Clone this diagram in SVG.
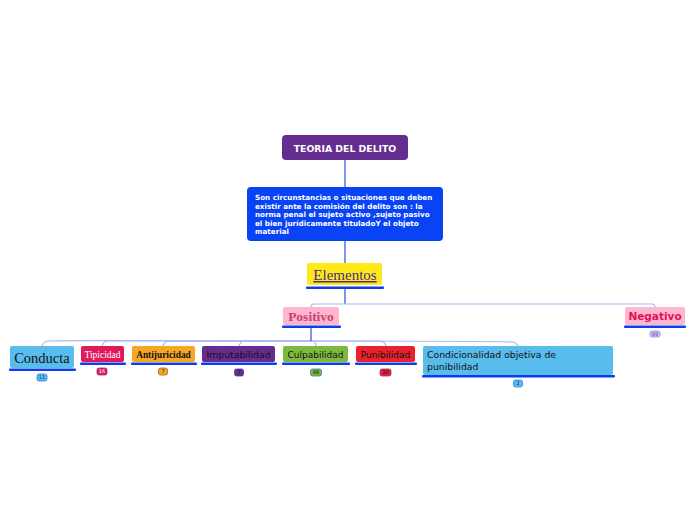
<svg xmlns="http://www.w3.org/2000/svg" width="696" height="520" viewBox="0 0 696 520">
<style>
.sans{font-family:"DejaVu Sans","Verdana",sans-serif}
.serif{font-family:"Liberation Serif","Times New Roman",serif}
.ul{fill:#0a3ff0}
.trunk{stroke:#2452d8;stroke-width:1.2;fill:none}
.br{stroke:#aab8f4;stroke-width:1.2;fill:none}
.badge{stroke-width:0.8}
.bt{font-family:"DejaVu Sans",sans-serif;font-size:5px;text-anchor:middle}
</style>
<rect width="696" height="520" fill="#ffffff"/>
<g id="connectors">
<path class="trunk" d="M345,160 V188"/>
<path class="trunk" d="M345,241 V263"/>
<path class="trunk" d="M345,289 V304"/>
<path class="br" d="M345,304 H314 Q311,304 311,307"/>
<path class="br" d="M345,304 H652 Q655,304 655,307"/>
<path class="br" d="M311,341 C200,341 60,340 48,341 Q43,342 42,346"/>
<path class="br" d="M311,341 C250,341 120,341 107,341 Q103,342 102,346"/>
<path class="br" d="M311,341 C250,341 180,341 168,341 Q164,342 163,346"/>
<path class="br" d="M311,341 C280,341 250,341 244,341 Q240,342 239,346"/>
<path class="br" d="M311,341 Q316,341 316,346"/>
<path class="br" d="M311,341 C340,341 375,341 381,341 Q385,342 386,346"/>
<path class="br" d="M311,341 C380,341 490,341 513,342 Q517,343 518,346"/>
<path class="trunk" stroke-width="1.8" d="M311,328 V341"/>
</g>
<g id="teoria">
<rect x="282" y="135" width="126" height="25" rx="4" fill="#662d91"/>
<text x="345" y="152" class="sans" font-size="9.3" font-weight="bold" fill="#ffffff" text-anchor="middle">TEORIA DEL DELITO</text>
</g>
<g id="definicion">
<rect x="247" y="187" width="196" height="54" rx="4" fill="#0844f5"/>
<g class="sans" font-size="7.2" font-weight="bold" fill="#ffffff">
<text x="255" y="200">Son circunstancias o situaciones  que deben</text>
<text x="255" y="208.5">existir ante la comisión del delito son : la</text>
<text x="255" y="217">norma penal el sujeto activo ,sujeto pasivo</text>
<text x="255" y="225.5">el bien jurídicamente tituladoY el objeto</text>
<text x="255" y="234">material</text>
</g>
</g>
<g id="elementos">
<rect x="307" y="263" width="75" height="22" rx="2" fill="#ffe81a"/>
<rect class="ul" x="306" y="286.5" width="78" height="2.5" rx="1"/>
<text x="345" y="280" class="serif" font-size="15" fill="#4b2c84" text-anchor="middle" text-decoration="underline">Elementos</text>
</g>
<g id="positivo">
<rect x="283" y="307" width="56" height="18" rx="2" fill="#ffb6cf"/>
<rect class="ul" x="282" y="325.5" width="59" height="2.5" rx="1"/>
<text x="311" y="320.5" class="serif" font-size="13.5" font-weight="bold" fill="#c8426f" text-anchor="middle">Positivo</text>
</g>
<g id="negativo">
<rect x="625" y="307" width="60" height="18" rx="2" fill="#ffb6cf"/>
<rect class="ul" x="624" y="325.5" width="62" height="2.5" rx="1"/>
<text x="655" y="320" class="sans" font-size="10.5" font-weight="bold" fill="#e0105a" text-anchor="middle">Negativo</text>
<rect class="badge" x="650" y="331" width="10" height="6" rx="2" fill="#d8c0f0" stroke="#8c8cf5"/>
<text class="bt" x="655" y="335.8" fill="#6a3a9a">99</text>
</g>
<g id="conducta">
<rect x="10" y="346" width="64" height="22" rx="2" fill="#58bdec"/>
<rect class="ul" x="9" y="368.5" width="67" height="2.5" rx="1"/>
<text x="42" y="362.5" class="serif" font-size="14.5" fill="#111111" text-anchor="middle">Conducta</text>
<rect class="badge" x="37" y="374" width="10" height="7" rx="2" fill="#58bdec" stroke="#3a7fe0"/>
<text class="bt" x="42" y="379.3" fill="#1a3a7a">11</text>
</g>
<g id="tipicidad">
<rect x="81" y="346" width="43" height="16" rx="2" fill="#e0195a"/>
<rect class="ul" x="80" y="362.5" width="46" height="2.5" rx="1"/>
<text x="102.5" y="357.5" class="serif" font-size="9.5" fill="#ffffff" text-anchor="middle">Tipicidad</text>
<rect class="badge" x="97" y="368" width="10" height="7" rx="2" fill="#e0195a" stroke="#9a2a8a"/>
<text class="bt" x="102" y="373.3" fill="#ffffff">16</text>
</g>
<g id="antijuricidad">
<rect x="132" y="346" width="63" height="16" rx="2" fill="#f5a623"/>
<rect class="ul" x="131" y="362.5" width="66" height="2.5" rx="1"/>
<text x="163.5" y="357.5" class="serif" font-size="9.4" font-weight="bold" fill="#111111" text-anchor="middle">Antijuricidad</text>
<rect class="badge" x="158.5" y="368" width="9" height="7" rx="2" fill="#f5a623" stroke="#9a6a30"/>
<text class="bt" x="163" y="373.3" fill="#333333">7</text>
</g>
<g id="imputabilidad">
<rect x="202" y="346" width="73" height="16" rx="2" fill="#662d91"/>
<rect class="ul" x="201" y="362.5" width="76" height="2.5" rx="1"/>
<text x="238.5" y="357.8" class="sans" font-size="9.3" fill="#111111" text-anchor="middle">Imputabilidad</text>
<rect class="badge" x="234.5" y="369" width="9" height="7" rx="2" fill="#662d91" stroke="#4a3aa0"/>
<text class="bt" x="239" y="374.3" fill="#111111">7</text>
</g>
<g id="culpabilidad">
<rect x="283" y="346" width="65" height="16" rx="2" fill="#7cb93c"/>
<rect class="ul" x="282" y="362.5" width="68" height="2.5" rx="1"/>
<text x="315.5" y="357.8" class="sans" font-size="9" fill="#111111" text-anchor="middle">Culpabilidad</text>
<rect class="badge" x="310.5" y="369" width="11" height="7" rx="2" fill="#7cb93c" stroke="#4a7ab0"/>
<text class="bt" x="316" y="374.3" fill="#111111">48</text>
</g>
<g id="punibilidad">
<rect x="356" y="346" width="59" height="16" rx="2" fill="#e8232e"/>
<rect class="ul" x="355" y="362.5" width="62" height="2.5" rx="1"/>
<text x="385.5" y="357.8" class="sans" font-size="9" fill="#111111" text-anchor="middle">Punibilidad</text>
<rect class="badge" x="380" y="369" width="11" height="7" rx="2" fill="#e8232e" stroke="#9a2a8a"/>
<text class="bt" x="385.5" y="374.3" fill="#111111">20</text>
</g>
<g id="condicionalidad">
<rect x="423" y="346" width="190" height="29" rx="2" fill="#58bdec"/>
<rect class="ul" x="422" y="375" width="193" height="2.5" rx="1"/>
<g class="sans" font-size="9.3" fill="#111111">
<text x="427" y="358">Condicionalidad objetiva de</text>
<text x="427" y="370">punibilidad</text>
</g>
<rect class="badge" x="513.5" y="380" width="9" height="7" rx="2" fill="#58bdec" stroke="#3a7fe0"/>
<text class="bt" x="518" y="385.3" fill="#1a3a7a">2</text>
</g>
</svg>
